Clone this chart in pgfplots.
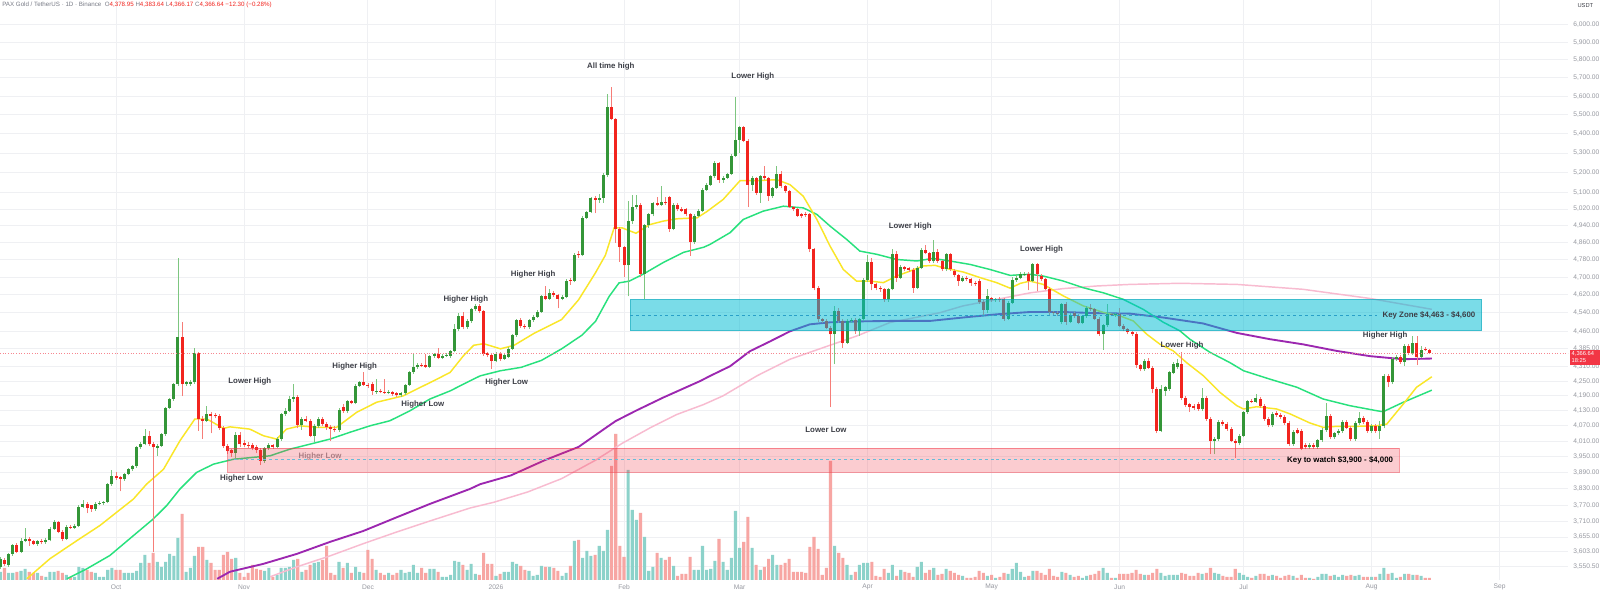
\documentclass[border=0pt]{standalone}
\usepackage{pgfplots}
\pgfplotsset{compat=1.18}
\usepackage{pgfplotstable}
\usepackage{fontspec}
\setmainfont{Liberation Sans}
\definecolor{upc}{RGB}{52,150,56}
\definecolor{dnc}{RGB}{242,36,30}
\definecolor{upw}{RGB}{125,198,128}
\definecolor{dnw}{RGB}{246,125,120}
\definecolor{volup}{RGB}{140,210,202}
\definecolor{voldn}{RGB}{247,166,163}
\definecolor{ema1}{RGB}{250,230,40}
\definecolor{ema2}{RGB}{40,225,125}
\definecolor{ma200}{RGB}{156,39,176}
\definecolor{ema200}{RGB}{248,187,208}
\definecolor{zone}{RGB}{0,188,212}
\definecolor{zred}{RGB}{242,54,69}
\definecolor{txt}{RGB}{60,62,70}
\definecolor{axtxt}{RGB}{150,152,160}
\definecolor{gridc}{RGB}{239,240,243}
\definecolor{hdr}{RGB}{120,123,134}
\definecolor{dashone}{RGB}{41,160,200}

\pgfplotstableread{
d o h l c v
-28 3551 3585 3545 3579 8
-27 3575 3582 3553 3561 12
-26 3558 3600 3552 3596 7
-25 3596 3632 3590 3627 7
-24 3627 3635 3598 3603 8
-23 3603 3650 3598 3641 9
-22 3641 3686 3636 3648 11
-21 3648 3656 3625 3640 8
-20 3640 3646 3626 3632 7
-19 3632 3645 3625 3641 7
-18 3641 3648 3630 3636 4
-17 3636 3650 3632 3643 3
-16 3643 3690 3640 3684 8
-15 3684 3715 3680 3707 8
-14 3707 3712 3668 3674 9
-13 3674 3680 3640 3648 7
-12 3648 3698 3644 3692 5
-11 3692 3698 3684 3688 3
-10 3688 3700 3684 3694 3
-9 3694 3770 3690 3763 13
-8 3763 3790 3758 3774 12
-7 3774 3782 3740 3760 10
-6 3768 3772 3745 3756 8
-5 3756 3782 3750 3774 7
-4 3774 3785 3770 3778 3
-3 3778 3784 3772 3780 3
-2 3780 3852 3776 3847 10
-1 3847 3900 3842 3877 12
0 3877 3892 3862 3870 10
1 3872 3878 3820 3866 10
2 3866 3890 3860 3885 7
3 3885 3908 3880 3903 7
4 3903 3918 3898 3914 7
5 3914 3992 3908 3987 9
6 3987 4008 3980 3999 17
7 3999 4057 3994 4030 25
8 4030 4050 3992 3999 17
9 3999 4008 3603 3987 27
10 3985 3998 3955 3993 18
11 3993 4042 3988 4038 13
12 4038 4146 4032 4141 18
13 4141 4182 4135 4177 26
14 4177 4243 4170 4238 24
15 4238 4790 4230 4437 42
16 4437 4499 4189 4238 66
17 4238 4252 4230 4245 8
18 4240 4255 4232 4247 12
19 4245 4390 4240 4366 24
20 4366 4372 4050 4097 33
21 4097 4108 4020 4090 33
22 4090 4150 4085 4117 20
23 4117 4125 4040 4110 17
24 4113 4120 4100 4107 10
25 4109 4115 4055 4061 10
26 4061 4068 3985 3991 25
27 3991 3998 3960 3972 28
28 3975 3982 3950 3965 21
29 3965 4045 3940 4034 22
30 4034 4045 3990 3999 7
31 4003 4015 3990 3997 3
32 3997 4008 3985 3992 7
33 3996 4004 3975 3983 15
34 3990 3996 3965 3978 11
35 3978 3985 3918 3935 10
36 3935 3990 3928 3985 9
37 3985 4002 3975 3995 12
38 3995 4000 3982 3990 3
39 3990 4025 3985 4018 5
40 4018 4122 4012 4117 12
41 4117 4140 4110 4130 12
42 4130 4190 4125 4177 13
43 4177 4238 4165 4185 20
44 4185 4195 4060 4074 21
45 4074 4105 4055 4097 8
46 4097 4108 4085 4090 10
47 4090 4098 4025 4031 15
48 4031 4078 4008 4070 17
49 4070 4105 4062 4097 18
50 4097 4104 4070 4078 20
51 4078 4085 4055 4065 34
52 4065 4072 4010 4058 7
53 4058 4068 4045 4052 5
54 4052 4140 4045 4133 18
55 4145 4155 4122 4130 12
56 4127 4175 4120 4168 17
57 4168 4175 4155 4160 7
58 4160 4238 4155 4231 13
59 4231 4252 4225 4247 8
60 4247 4287 4230 4235 7
61 4235 4242 4222 4230 30
62 4240 4245 4195 4210 21
63 4205 4258 4198 4210 10
64 4210 4218 4200 4206 7
65 4206 4258 4198 4203 5
66 4203 4212 4196 4205 7
67 4205 4210 4190 4198 5
68 4200 4205 4185 4193 7
69 4193 4205 4185 4200 10
70 4200 4240 4195 4235 7
71 4235 4292 4230 4286 8
72 4286 4362 4280 4310 15
73 4310 4325 4302 4318 7
74 4318 4325 4308 4315 12
75 4318 4362 4305 4310 7
76 4310 4360 4305 4355 11
77 4355 4368 4348 4362 11
78 4362 4387 4340 4348 8
79 4348 4362 4340 4355 3
80 4355 4366 4350 4360 3
81 4355 4380 4348 4375 5
82 4375 4490 4370 4470 19
83 4470 4540 4462 4525 18
84 4525 4545 4468 4478 15
85 4478 4512 4470 4505 10
86 4505 4562 4498 4556 16
87 4556 4580 4548 4572 6
88 4572 4580 4540 4547 5
89 4547 4555 4355 4364 27
90 4366 4372 4350 4359 16
91 4359 4365 4300 4335 16
92 4335 4370 4328 4364 4
93 4364 4370 4335 4343 6
94 4343 4366 4338 4360 8
95 4352 4392 4345 4385 8
96 4385 4450 4378 4443 18
97 4443 4515 4436 4509 16
98 4509 4516 4476 4483 14
99 4483 4490 4470 4477 10
100 4477 4515 4470 4509 9
101 4509 4530 4502 4524 4
102 4524 4552 4518 4546 5
103 4546 4620 4540 4613 14
104 4613 4660 4596 4603 13
105 4603 4648 4598 4629 13
106 4629 4636 4612 4620 12
107 4620 4626 4560 4603 9
108 4603 4618 4596 4610 4
109 4610 4690 4604 4682 7
110 4688 4695 4665 4682 14
111 4682 4810 4676 4803 39
112 4808 4820 4790 4800 40
113 4800 4985 4795 4977 22
114 4977 5012 4970 5006 29
115 5006 5080 5000 5074 24
116 5074 5082 5000 5065 25
117 5065 5095 5050 5075 34
118 5075 5198 5050 5190 29
119 5190 5614 5180 5540 50
120 5540 5650 5470 5476 114
121 5476 5485 4860 4926 146
122 4926 4935 4770 4838 34
123 4838 4845 4700 4754 23
124 4754 5060 4613 4960 110
125 4960 5090 4950 5030 70
126 5030 5090 5020 5040 60
127 5040 5048 4700 4716 67
128 4716 4950 4602 4941 43
129 4941 5000 4930 4994 9
130 4994 5055 4985 5048 13
131 5048 5080 5035 5041 27
132 5041 5135 5035 5055 22
133 5055 5080 5040 5048 20
134 5078 5085 4910 4926 23
135 4926 5050 4918 5040 14
136 5040 5048 5010 5020 4
137 5020 5028 5005 5012 6
138 5018 5025 4985 4994 6
139 4994 5000 4798 4862 23
140 4862 4995 4855 4988 10
141 4988 5018 4980 5010 10
142 5010 5122 5005 5116 34
143 5116 5148 5110 5140 10
144 5140 5190 5135 5182 11
145 5182 5258 5175 5249 19
146 5249 5256 5150 5165 41
147 5165 5182 5150 5175 18
148 5175 5200 5168 5195 10
149 5195 5295 5188 5287 22
150 5287 5598 5280 5369 69
151 5369 5440 5300 5433 32
152 5433 5440 5355 5364 38
153 5364 5370 5030 5140 63
154 5140 5182 5110 5173 32
155 5173 5180 5090 5099 15
156 5099 5190 5050 5182 10
157 5182 5232 5165 5173 13
158 5173 5180 5060 5084 21
159 5084 5130 5075 5124 25
160 5124 5232 5118 5195 15
161 5195 5210 5125 5132 15
162 5132 5140 5100 5108 17
163 5108 5115 5025 5030 21
164 5030 5036 5010 5018 8
165 5018 5024 4982 4989 8
166 4995 5000 4978 4985 8
167 4998 5004 4984 4990 7
168 4994 5000 4815 4828 33
169 4828 4834 4640 4652 43
170 4652 4660 4500 4512 31
171 4512 4520 4498 4505 5
172 4505 4512 4468 4475 12
173 4475 4482 4144 4447 119
174 4447 4570 4320 4550 34
175 4550 4560 4498 4505 27
176 4505 4512 4390 4411 22
177 4411 4512 4405 4505 15
178 4505 4520 4498 4510 5
179 4510 4518 4450 4460 8
180 4460 4520 4440 4512 15
181 4512 4695 4505 4685 17
182 4685 4800 4680 4771 17
183 4771 4790 4640 4667 18
184 4667 4675 4640 4652 4
185 4652 4660 4635 4645 3
186 4645 4652 4590 4600 11
187 4600 4652 4590 4645 7
188 4645 4830 4640 4808 15
189 4808 4820 4680 4698 4
190 4698 4755 4690 4746 10
191 4746 4752 4726 4735 8
192 4740 4748 4725 4733 7
193 4733 4740 4630 4652 3
194 4652 4750 4645 4742 13
195 4742 4835 4735 4825 18
196 4825 4850 4805 4810 7
197 4810 4818 4765 4772 10
198 4772 4870 4765 4818 12
199 4818 4830 4765 4772 5
200 4772 4780 4728 4735 6
201 4735 4812 4728 4805 11
202 4805 4812 4728 4735 9
203 4730 4738 4702 4710 7
204 4710 4716 4660 4683 5
205 4683 4705 4676 4698 4
206 4698 4705 4684 4690 2
207 4690 4696 4660 4672 2
208 4675 4684 4660 4668 3
209 4683 4690 4580 4588 9
210 4588 4595 4530 4553 7
211 4553 4645 4540 4615 4
212 4605 4612 4590 4597 5
213 4597 4608 4590 4602 2
214 4602 4610 4590 4597 3
215 4600 4606 4505 4515 7
216 4515 4592 4508 4585 6
217 4585 4700 4578 4685 11
218 4685 4712 4678 4698 17
219 4698 4725 4690 4713 8
220 4713 4722 4706 4716 3
221 4716 4722 4640 4683 4
222 4683 4765 4676 4758 9
223 4758 4765 4637 4713 9
224 4706 4712 4684 4690 7
225 4690 4697 4640 4648 5
226 4648 4655 4530 4543 11
227 4543 4550 4530 4538 4
228 4540 4547 4526 4534 3
229 4500 4585 4490 4578 8
230 4578 4590 4488 4500 7
231 4500 4540 4494 4530 5
232 4540 4547 4520 4527 3
233 4527 4535 4490 4497 4
234 4497 4532 4490 4525 2
235 4525 4570 4518 4563 4
236 4563 4578 4550 4556 5
237 4556 4562 4508 4515 6
238 4515 4522 4440 4447 9
239 4447 4492 4380 4486 12
240 4486 4578 4480 4534 7
241 4534 4540 4525 4530 2
242 4530 4540 4524 4534 2
243 4534 4560 4478 4483 6
244 4483 4490 4460 4472 6
245 4469 4475 4448 4455 6
246 4455 4460 4440 4450 7
247 4450 4456 4305 4317 10
248 4317 4322 4290 4299 6
249 4299 4342 4292 4334 5
250 4334 4345 4300 4306 5
251 4306 4312 4200 4217 7
252 4217 4224 4040 4051 11
253 4051 4235 4045 4217 7
254 4210 4232 4190 4225 4
255 4217 4292 4210 4288 5
256 4285 4330 4278 4322 5
257 4310 4340 4300 4325 5
258 4320 4371 4175 4183 7
259 4183 4190 4145 4153 6
260 4155 4162 4125 4145 4
261 4150 4158 4132 4140 4
262 4157 4164 4130 4137 7
263 4137 4220 4130 4183 6
264 4183 4190 4090 4097 7
265 4097 4104 3960 4012 12
266 4012 4025 3960 4018 7
267 4018 4092 4010 4084 6
268 4084 4092 4070 4077 4
269 4077 4085 4050 4057 3
270 4057 4064 4005 4012 3
271 4012 4020 3947 4002 11
272 4002 4038 3995 4031 7
273 4031 4130 4025 4124 5
274 4124 4175 4118 4168 3
275 4170 4178 4160 4166 2
276 4166 4197 4160 4180 4
277 4177 4185 4142 4150 6
278 4150 4158 4090 4097 6
279 4097 4105 4065 4073 4
280 4073 4124 4066 4117 5
281 4121 4128 4106 4113 4
282 4113 4120 4098 4105 2
283 4105 4112 4074 4081 4
284 4081 4088 3992 3999 5
285 3999 4054 3992 4047 4
286 4055 4062 4036 4043 2
287 4051 4058 3975 3982 5
288 3995 4002 3979 3986 2
289 3986 4002 3979 3995 2
290 3995 4002 3981 3988 1
291 3988 4020 3981 4014 3
292 4014 4060 4007 4053 6
293 4053 4163 4046 4110 6
294 4110 4117 4018 4025 4
295 4025 4047 4018 4040 5
296 4040 4057 4033 4050 3
297 4050 4094 4043 4087 5
298 4087 4094 4056 4063 4
299 4063 4070 4011 4018 5
300 4018 4088 4011 4081 4
301 4081 4125 4074 4100 5
302 4100 4107 4078 4085 3
303 4085 4092 4043 4050 3
304 4050 4077 4043 4070 3
305 4070 4077 4043 4050 3
306 4050 4090 4020 4070 6
307 4070 4280 4060 4272 12
308 4272 4280 4225 4245 6
309 4245 4350 4238 4341 7
310 4341 4357 4334 4350 2
311 4350 4357 4322 4330 3
312 4330 4405 4312 4397 6
313 4397 4404 4358 4366 6
314 4366 4438 4360 4408 5
315 4408 4440 4316 4352 5
316 4352 4395 4346 4380 4
317 4385 4392 4376 4381 2
318 4378.95 4383.64 4366.17 4366.64 2
}\candles

\pgfplotsset{
  myupf/.style={x filter/.expression={\thisrow{c}>=\thisrow{o} ? x : nan}},
  mydnf/.style={x filter/.expression={\thisrow{c}<\thisrow{o} ? x : nan}},
}
\tikzset{lbl/.style={font=\fontsize{5.9}{6}\selectfont\bfseries, text=txt, inner sep=0pt}}

\begin{document}
\begin{tikzpicture}
\fill[white] (0,0) rectangle (1200pt,443.25pt);

% grid + tick labels
\begin{axis}[
  scale only axis, width=1176pt, height=435pt,
  xmin=-28.087, xmax=351.57,
  at={(0pt,8.25pt)}, anchor=south west,
  axis line style={draw=none}, major tick length=0pt,
  enlargelimits=false,
  ymode=log, ymin=3506.2, ymax=6146.9,
  ytick={3550.5,3603,3655,3710,3770,3830,3890,3950,4010,4070,4130,4190,4250,4310,4385,4460,4540,4620,4700,4780,4860,4940,5020,5100,5200,5300,5400,5500,5600,5700,5800,5900,6000},
  yticklabels={{3,550.50},{3,603.00},{3,655.00},{3,710.00},{3,770.00},{3,830.00},{3,890.00},{3,950.00},{4,010.00},{4,070.00},{4,130.00},{4,190.00},{4,250.00},{4,310.00},{4,385.00},{4,460.00},{4,540.00},{4,620.00},{4,700.00},{4,780.00},{4,860.00},{4,940.00},{5,020.00},{5,100.00},{5,200.00},{5,300.00},{5,400.00},{5,500.00},{5,600.00},{5,700.00},{5,800.00},{5,900.00},{6,000.00}},
  yticklabel pos=right,
  yticklabel style={anchor=west, inner sep=0pt, xshift=3.8pt, font=\fontsize{5}{6}\selectfont, text=axtxt},
  xtick={0,31,61,92,123,151,182,212,243,273,304,335},
  xticklabels={Oct,Nov,Dec,2026,Feb,Mar,Apr,May,Jun,Jul,Aug,Sep},
  xticklabel style={anchor=center, inner sep=0pt, yshift=-5.25pt, font=\fontsize{5}{6}\selectfont, text=axtxt},
  ymajorgrids, xmajorgrids,
  grid style={draw=gridc, line width=0.75pt},
]
\addplot[draw=none] coordinates {(0,4000)};
\end{axis}

% volume
\begin{axis}[
  scale only axis, width=1176pt, height=435pt,
  xmin=-28.087, xmax=351.57,
  at={(0pt,8.25pt)}, anchor=south west,
  axis line style={draw=none}, major tick length=0pt,
  enlargelimits=false,
  ymin=0, ymax=580, xtick=\empty, ytick=\empty]
\addplot[ybar, bar width=2.3pt, bar shift=0pt, fill=volup, draw=none, myupf] table[x=d, y=v] {\candles};
\addplot[ybar, bar width=2.3pt, bar shift=0pt, fill=voldn, draw=none, mydnf] table[x=d, y=v] {\candles};
\end{axis}

% price content
\begin{axis}[
  scale only axis, width=1176pt, height=435pt,
  xmin=-28.087, xmax=351.57,
  at={(0pt,8.25pt)}, anchor=south west,
  axis line style={draw=none}, major tick length=0pt,
  enlargelimits=false,
  ymode=log, ymin=3506.2, ymax=6146.9,
  xtick=\empty, ytick=\empty]
% pink EMA
\addplot[ema200, line width=1.1pt, mark=none] coordinates {
(37.3,3517) (43.8,3551) (51.8,3589) (59.8,3631) (68.0,3673) (76.0,3712) (85.7,3759) (91.5,3780) (99.7,3818) (107.9,3868) (116.1,3937) (122.6,4002) (129.2,4061) (135.8,4115) (142.3,4155) (147.0,4190) (155.2,4272) (163.2,4341) (171.2,4390) (179.4,4440) (187.4,4498) (199.5,4541) (205.1,4571) (213.3,4600) (221.3,4629) (229.3,4648) (237.5,4660) (245.5,4667) (257.6,4672) (271.4,4667) (287.4,4645) (303.6,4604) (318.6,4556)};
% purple MA
\addplot[ma200, line width=1.4pt, mark=none] coordinates {
(24.5,3510) (27.6,3534) (35.6,3561) (43.8,3596) (51.8,3638) (59.8,3676) (68.0,3726) (76.0,3774) (85.7,3829) (88.2,3847) (95.6,3880) (103.8,3937) (112.0,3988) (118.5,4061) (121.0,4089) (125.9,4130) (132.5,4183) (141.4,4250) (143.8,4271) (148.7,4312) (153.5,4375) (158.4,4417) (163.2,4460) (168.0,4490) (172.9,4499) (180,4503) (187.4,4505) (197.1,4505) (205.1,4520) (213.3,4534) (221.3,4544) (229.3,4544) (237.5,4539) (245.5,4537) (253.5,4520) (263.2,4494) (271.4,4453) (279.4,4426) (287.4,4404) (295.6,4376) (303.6,4354) (311.6,4341) (318.6,4344)};
% green EMA
\addplot[ema2, line width=1.1pt, mark=none] coordinates {
(-11.9,3510) (-7.1,3544) (-1.5,3590) (4.2,3660) (9.0,3719) (12.3,3768) (15.5,3829) (19.5,3891) (23.6,3922) (28.4,3941) (32.4,3947) (37.3,3954) (42.1,3980) (47.0,3999) (51.8,4018) (56.7,4045) (61.5,4070) (66.3,4090) (71.2,4130) (76.0,4177) (80.9,4210) (85.7,4251) (88.2,4272) (93.1,4293) (98.1,4307) (103.0,4336) (107.9,4385) (112.8,4443) (116.1,4503) (119.4,4613) (121.8,4674) (124.3,4682) (127.6,4713) (132.5,4767) (137.4,4814) (142.3,4838) (143.8,4851) (148.7,4907) (151.9,4970) (156.7,5010) (161.6,5034) (166.4,5026) (169.7,4994) (172.9,4938) (176.9,4875) (180.1,4820) (184.2,4805) (189.0,4781) (193.9,4774) (197.8,4786) (201.9,4774) (206.8,4758) (211.6,4735) (216.5,4708) (221.3,4713) (224.5,4705) (229.4,4682) (234.2,4652) (239.1,4629) (243.9,4600) (248.7,4556) (253.6,4499) (257.6,4462) (260.0,4426) (264.9,4370) (269.7,4327) (273.0,4293) (279.4,4258) (285.9,4225) (292.3,4177) (298.8,4150) (305.2,4130) (306.8,4126) (311.7,4164) (318.6,4213)};
% yellow EMA
\addplot[ema1, line width=1.1pt, mark=none] coordinates {
(-21.6,3510) (-16.0,3579) (-9.5,3642) (-3.9,3696) (0.2,3744) (4.2,3792) (7.4,3847) (11.5,3903) (15.5,4012) (19.1,4097) (22.0,4097) (26.0,4060) (27.6,4066) (32.4,4057) (35.7,4031) (38.9,4018) (41.3,4057) (44.6,4070) (48.6,4064) (53.4,4064) (58.3,4124) (63.1,4164) (69.6,4190) (72.8,4217) (77.7,4258) (80.9,4286) (84.1,4355) (86.6,4400) (89.0,4407) (93.1,4385) (96.4,4400) (101.3,4452) (107.9,4511) (112.0,4598) (116.1,4720) (118.5,4801) (120.6,4929) (122.6,4929) (125.9,4904) (129.2,4945) (132.5,4962) (135.8,4973) (140.7,4978) (143.0,5007) (147.0,5067) (151.1,5160) (155.1,5160) (160.0,5165) (163.2,5140) (166.4,5083) (169.7,4970) (172.9,4843) (176.1,4735) (179.3,4682) (182.6,4682) (185.8,4675) (189.0,4705) (192.3,4728) (195.5,4751) (198.3,4754) (200.3,4743) (205.2,4723) (209.2,4698) (213.2,4675) (216.5,4650) (219.0,4672) (221.3,4682) (224.5,4667) (229.4,4615) (234.2,4571) (239.1,4542) (243.1,4527) (246.3,4505) (249.6,4447) (252.8,4404) (256.0,4376) (259.2,4327) (263.3,4272) (267.3,4204) (271.4,4150) (273.0,4137) (276.2,4146) (281.0,4137) (284.3,4117) (289.1,4081) (292.3,4064) (295.6,4068) (300.4,4068) (305.2,4070) (307.7,4077) (309.7,4117) (311.7,4157) (314.9,4225) (318.6,4268)};

% wicks
\addplot[draw=none, mark=none, myupf, error bars/.cd, y dir=plus, y explicit, error mark=none,
  error bar style={draw=upw, line width=0.6pt}]
  table[x=d, y=l, y error plus expr=\thisrow{h}-\thisrow{l}] {\candles};
\addplot[draw=none, mark=none, mydnf, error bars/.cd, y dir=plus, y explicit, error mark=none,
  error bar style={draw=dnw, line width=0.6pt}]
  table[x=d, y=l, y error plus expr=\thisrow{h}-\thisrow{l}] {\candles};
% bodies
\addplot[draw=none, mark=none, myupf, error bars/.cd, y dir=plus, y explicit, error mark=none,
  error bar style={draw=upc, line width=2.25pt}]
  table[x=d, y=o, y error plus expr={max(\thisrow{c}-\thisrow{o},3)}] {\candles};
\addplot[draw=none, mark=none, mydnf, error bars/.cd, y dir=plus, y explicit, error mark=none,
  error bar style={draw=dnc, line width=2.25pt}]
  table[x=d, y=c, y error plus expr={max(\thisrow{o}-\thisrow{c},3)}] {\candles};

% faded label under the box
\node[lbl, text=txt!55] at (axis cs:49.4,3951) {Higher Low};

% zones
\fill[zone, fill opacity=0.52] (axis cs:124.5,4463) rectangle (axis cs:330.7,4600);
\draw[zone!85!black, draw opacity=0.5, line width=0.75pt] (axis cs:124.5,4463) rectangle (axis cs:330.7,4600);
\draw[dashone, line width=0.6pt, dash pattern=on 2.2pt off 2.2pt] (axis cs:124.5,4531) -- (axis cs:305.3,4531);
\fill[zred, fill opacity=0.25] (axis cs:27.1,3892) rectangle (axis cs:310.7,3983);
\draw[zred, draw opacity=0.5, line width=0.75pt] (axis cs:27.1,3892) rectangle (axis cs:310.7,3983);
\draw[dashone!70, line width=0.6pt, dash pattern=on 2.2pt off 2.2pt] (axis cs:27.1,3941) -- (axis cs:281.8,3941);

% last price line
\draw[zred!60, line width=0.6pt, dash pattern=on 0.8pt off 1.2pt] (axis cs:-28.087,4366.64) -- (axis cs:351.57,4366.64);

% labels
\node[lbl] at (axis cs:119.8,5763) {All time high};
\node[lbl] at (axis cs:154.2,5707) {Lower High};
\node[lbl] at (axis cs:192.3,4935) {Lower High};
\node[lbl] at (axis cs:171.9,4054) {Lower Low};
\node[lbl] at (axis cs:224.1,4828) {Lower High};
\node[lbl] at (axis cs:258.1,4401) {Lower High};
\node[lbl] at (axis cs:307.3,4444) {Higher High};
\node[lbl] at (axis cs:317.9,4531) {Key Zone \$4,463 - \$4,600};
\node[lbl, text=black] at (axis cs:296.4,3938) {Key to watch \$3,900 - \$4,000};
\node[lbl] at (axis cs:32.4,4248) {Lower High};
\node[lbl] at (axis cs:30.4,3870) {Higher Low};
\node[lbl] at (axis cs:57.8,4312) {Higher High};
\node[lbl] at (axis cs:74.3,4153) {Higher Low};
\node[lbl] at (axis cs:84.7,4600) {Higher High};
\node[lbl] at (axis cs:94.6,4245) {Higher Low};
\node[lbl] at (axis cs:101.0,4710) {Higher High};
\end{axis}

% header
\node[anchor=west, inner sep=0pt, font=\fontsize{4.65}{5}\selectfont] at (1.5pt,439.4pt)
 {\textcolor{hdr}{PAX Gold / TetherUS · 1D · Binance}\ \ \textcolor{hdr}{O}\textcolor{dnc}{4,378.95}\ \textcolor{hdr}{H}\textcolor{dnc}{4,383.64}\ \textcolor{hdr}{L}\textcolor{dnc}{4,366.17}\ \textcolor{hdr}{C}\textcolor{dnc}{4,366.64}\ \textcolor{dnc}{−12.30 (−0.28\%)}};
\node[anchor=center, inner sep=0pt, font=\fontsize{4.3}{5}\selectfont, text=txt] at (1189pt,438.8pt) {USDT};
% last price tag
\fill[zred] (1177.5pt,169.5pt) rectangle (1200pt,180.75pt);
\node[anchor=west, inner sep=0pt, font=\fontsize{4.3}{5}\selectfont, text=white] at (1178.6pt,177.6pt) {4,366.64};
\node[anchor=west, inner sep=0pt, font=\fontsize{4.3}{5}\selectfont, text=white] at (1178.6pt,172.6pt) {18:25};

\pgfresetboundingbox
\useasboundingbox (0,0) rectangle (1200pt,443.25pt);
\end{tikzpicture}
\end{document}
